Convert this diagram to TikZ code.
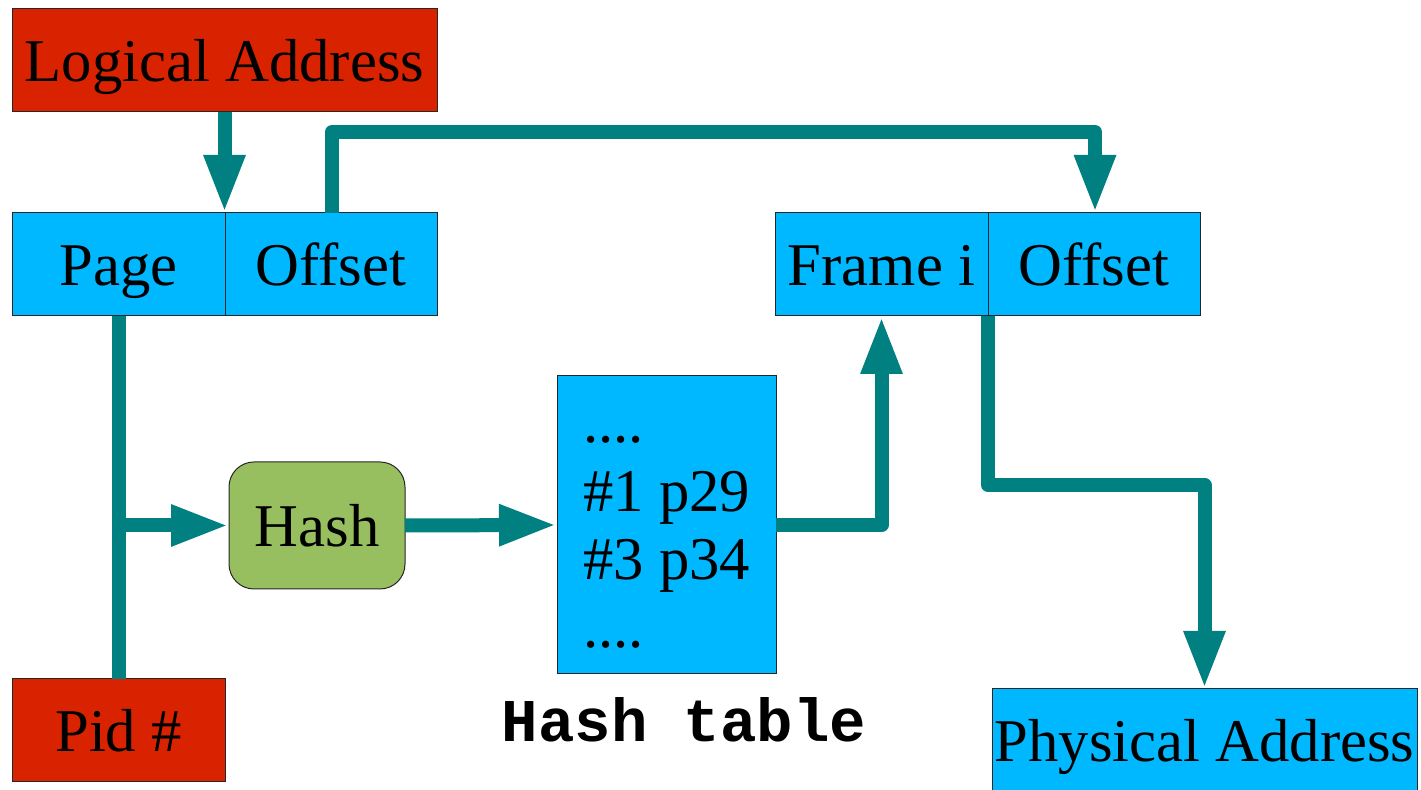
\documentclass[tikz,border=0pt]{standalone}
\usepackage{fontspec}
\setmainfont{Liberation Serif}
\setmonofont{Liberation Mono}
\usetikzlibrary{arrows.meta}
\definecolor{teal}{RGB}{0,128,128}
\definecolor{cellblue}{RGB}{0,184,255}
\definecolor{addrred}{RGB}{217,35,0}
\definecolor{hashgreen}{RGB}{151,190,95}
\tikzset{
  box/.style={draw=black!85, line width=0.5pt, inner sep=0pt, outer sep=0pt,
    font=\fontsize{30.35}{36}\selectfont, text height=28.8pt, text depth=7.3pt},
  cell/.style={box, fill=cellblue, minimum width=106.5pt, minimum height=51.5pt},
  redbox/.style={box, fill=addrred},
  link/.style={draw=teal, line width=7pt, line join=round},
  arr/.style={link, -{Triangle[length=29pt, width=19pt]}},
  row/.style={anchor=base west, inner sep=0pt, font=\fontsize{30.35}{36}\selectfont}
}
\begin{document}
\begin{tikzpicture}[x=0.5pt, y=-0.5pt]
\useasboundingbox (0,0) rectangle (1421,790);

% logical address split into page and offset
\node[redbox, minimum width=212.5pt, minimum height=51.5pt] (la) at (224.5,60.5) {Logical Address};
\node[cell] (page) at (118.5,264.5) {Page};
\node[cell, minimum width=106pt] (off) at (331,264.5) {Offset};

% resulting frame and offset
\node[cell] (frame) at (881.5,264.5) {Frame i};
\node[cell, minimum width=106pt] (off2) at (1094,264.5) {Offset};

% process id
\node[redbox, minimum width=106.5pt, minimum height=51.5pt] (pid) at (118.5,730.5) {Pid \#};

% hash function
\node[box, fill=hashgreen, rounded corners=12.5pt, minimum width=88pt, minimum height=63.5pt] (hash) at (317,525.5) {Hash};

% hash table and its entries
\node[box, fill=cellblue, minimum width=109.5pt, minimum height=149pt] (tbl) at (666.5,525) {};
\node[row] (r1) at (583,443) {....};
\node[row] (r2) at (583,512) {\#1 p29};
\node[row] (r3) at (583,580) {\#3 p34};
\node[row] (r4) at (583,648) {....};
\node[inner sep=0pt, anchor=base, font=\fontsize{30.35}{36}\selectfont\ttfamily\bfseries] (tbllabel) at (684,742) {Hash table};

% physical address
\node[box, fill=cellblue, minimum width=212.5pt, minimum height=51.5pt] (phys) at (1204.5,740.5) {Physical Address};

% routing helpers
\coordinate (top) at (0,132);
\coordinate (bend) at (0,485);

% connectors
\draw[arr] (la.south) -- (la.south |- page.north);
\draw[arr] ([xshift=0.5pt]off.north) -- ([xshift=0.5pt]off.north |- top) -| ([xshift=0.5pt]off2.north);
\draw[link] (page.south) -- (pid.north);
\draw[arr] (page.south |- hash.west) -- (hash.west);
\draw[arr] (hash.east) -- (tbl.west);
\draw[arr] (tbl.east) -| (frame.south);
\draw[arr] (frame.south east) -- (frame.south east |- bend) -| (phys.north);
\end{tikzpicture}
\end{document}
